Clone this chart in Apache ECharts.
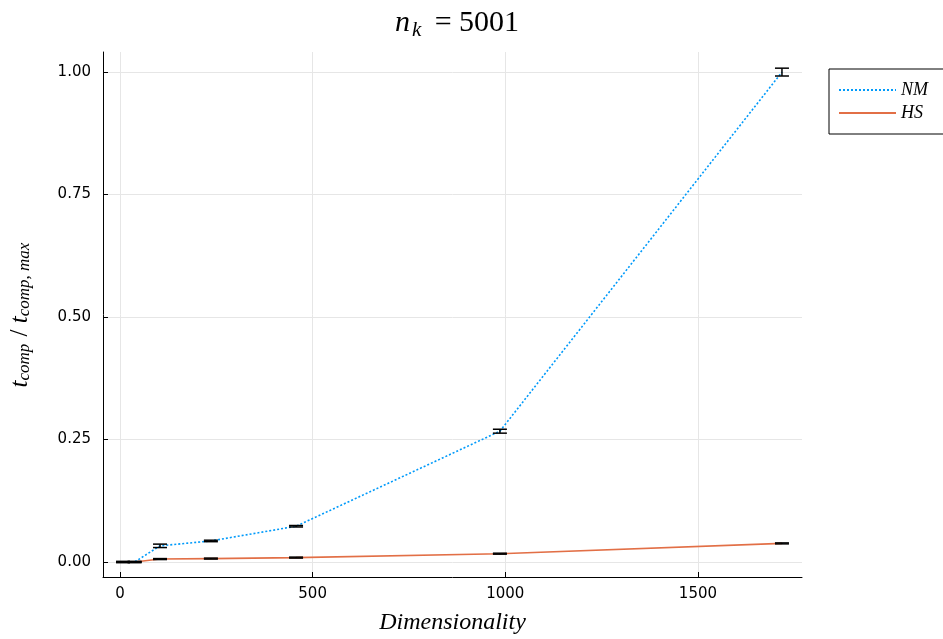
<!DOCTYPE html>
<html>
<head>
<meta charset="utf-8">
<script src="https://cdn.jsdelivr.net/npm/echarts@6/dist/echarts.min.js"></script>
<style>
  html, body { margin: 0; padding: 0; background: #fff; }
  #chart { width: 943px; height: 639px; }
</style>
</head>
<body>
<div id="chart"></div>
<script>
// values
const dims = [8, 38, 104, 236, 457, 986, 1718];
const nmMean = [0, 0, 0.033, 0.043, 0.073, 0.267, 1.0];
const nmErr = [0.001, 0.001, 0.0035, 0.0015, 0.0015, 0.004, 0.008];
const hsMean = [0, 0, 0.006, 0.007, 0.009, 0.017, 0.038];
const hsErr = [0.001, 0.001, 0.001, 0.001, 0.001, 0.001, 0.001];
const xTicks = [0, 500, 1000, 1500];
const yTicks = [0, 0.25, 0.5, 0.75, 1];

const mathFont = "Liberation Serif";
const tickFont = "DejaVu Sans";

const chart = echarts.init(document.getElementById("chart"));

function errData(mean, err) {
  return dims.map((d, i) => [d, mean[i] - err[i], mean[i] + err[i]]);
}

function renderErr(params, api) {
  const x = api.value(0);
  const lo = api.coord([x, api.value(1)]);
  const hi = api.coord([x, api.value(2)]);
  const w = 7;
  const style = { stroke: "#000", lineWidth: 1.5 };
  return {
    type: "group",
    children: [
      { type: "line", shape: { x1: lo[0], y1: lo[1], x2: hi[0], y2: hi[1] }, style },
      { type: "line", shape: { x1: lo[0] - w, y1: lo[1], x2: lo[0] + w, y2: lo[1] }, style },
      { type: "line", shape: { x1: hi[0] - w, y1: hi[1], x2: hi[0] + w, y2: hi[1] }, style },
    ],
  };
}

const option = {
  backgroundColor: "#fff",
  animation: false,
  title: {
    text: "{i|n}{s|k}{n| = 5001}",
    left: 452,
    textAlign: "center",
    top: 1,
    textStyle: {
      fontWeight: "normal",
      rich: {
        i: { fontFamily: mathFont, fontStyle: "italic", fontWeight: "normal", fontSize: 30, color: "#000" },
        s: { fontFamily: mathFont, fontStyle: "italic", fontWeight: "normal", fontSize: 21, color: "#000", verticalAlign: "bottom", padding: [14, 6, 0, 2] },
        n: { fontFamily: mathFont, fontWeight: "normal", fontSize: 30, color: "#000" },
      },
    },
  },
  legend: {
    left: 829,
    top: 69,
    orient: "vertical",
    itemWidth: 57,
    itemHeight: 10,
    itemGap: 5,
    padding: [12, 30, 12, 9],
    borderColor: "#000",
    borderWidth: 1,
    backgroundColor: "#fff",
    itemStyle: { opacity: 0 },
    data: ["NM", "HS"],
    textStyle: { fontFamily: mathFont, fontStyle: "italic", fontSize: 18, color: "#000" },
  },
  grid: { left: 103, right: 141, top: 52, bottom: 62, outerBoundsMode: "none" },
  xAxis: {
    type: "value",
    min: -44,
    max: 1770,
    name: "Dimensionality",
    nameLocation: "middle",
    nameGap: 34,
    nameTextStyle: { fontFamily: mathFont, fontStyle: "italic", fontSize: 24, color: "#000" },
    axisLine: { onZero: false, lineStyle: { color: "#000", width: 1 } },
    axisTick: { inside: true, length: 5, customValues: xTicks, lineStyle: { color: "#000" } },
    axisLabel: {
      customValues: xTicks,
      fontFamily: tickFont,
      fontSize: 15,
      color: "#000",
      margin: 10,
      formatter: (v) => String(v),
    },
    splitLine: { show: true, lineStyle: { color: "#e6e6e6", width: 1 } },
  },
  yAxis: {
    type: "value",
    min: -0.0306,
    max: 1.041,
    name: "{i|t}{s|comp}{n| / }{i|t}{s|comp, max}",
    nameLocation: "middle",
    nameRotate: 90,
    nameGap: 70,
    nameTextStyle: {
      rich: {
        i: { fontFamily: mathFont, fontStyle: "italic", fontSize: 25, color: "#000" },
        s: { fontFamily: mathFont, fontStyle: "italic", fontSize: 17, color: "#000", verticalAlign: "bottom", padding: [8, 1, 0, 0] },
        n: { fontFamily: mathFont, fontSize: 25, color: "#000" },
      },
    },
    axisLine: { show: true, onZero: false, lineStyle: { color: "#000", width: 1 } },
    axisTick: { show: true, inside: true, length: 5, customValues: yTicks, lineStyle: { color: "#000" } },
    axisLabel: {
      customValues: yTicks,
      fontFamily: tickFont,
      fontSize: 15,
      color: "#000",
      margin: 12,
      formatter: (v) => v.toFixed(2),
    },
    splitLine: { show: true, lineStyle: { color: "#e6e6e6", width: 1 } },
  },
  series: [
    {
      name: "NM",
      type: "line",
      data: dims.map((d, i) => [d, nmMean[i]]),
      symbol: "none",
      color: "#009AFA",
      lineStyle: { color: "#009AFA", width: 1.6, type: [2, 2] },
      z: 3,
    },
    {
      name: "HS",
      type: "line",
      data: dims.map((d, i) => [d, hsMean[i]]),
      symbol: "none",
      color: "#E26F46",
      lineStyle: { color: "#E26F46", width: 1.6 },
      z: 3,
    },
    {
      type: "custom",
      renderItem: renderErr,
      data: errData(nmMean, nmErr),
      encode: { x: 0, y: [1, 2] },
      z: 4,
    },
    {
      type: "custom",
      renderItem: renderErr,
      data: errData(hsMean, hsErr),
      encode: { x: 0, y: [1, 2] },
      z: 4,
    },
  ],
};

chart.setOption(option);
</script>
</body>
</html>
